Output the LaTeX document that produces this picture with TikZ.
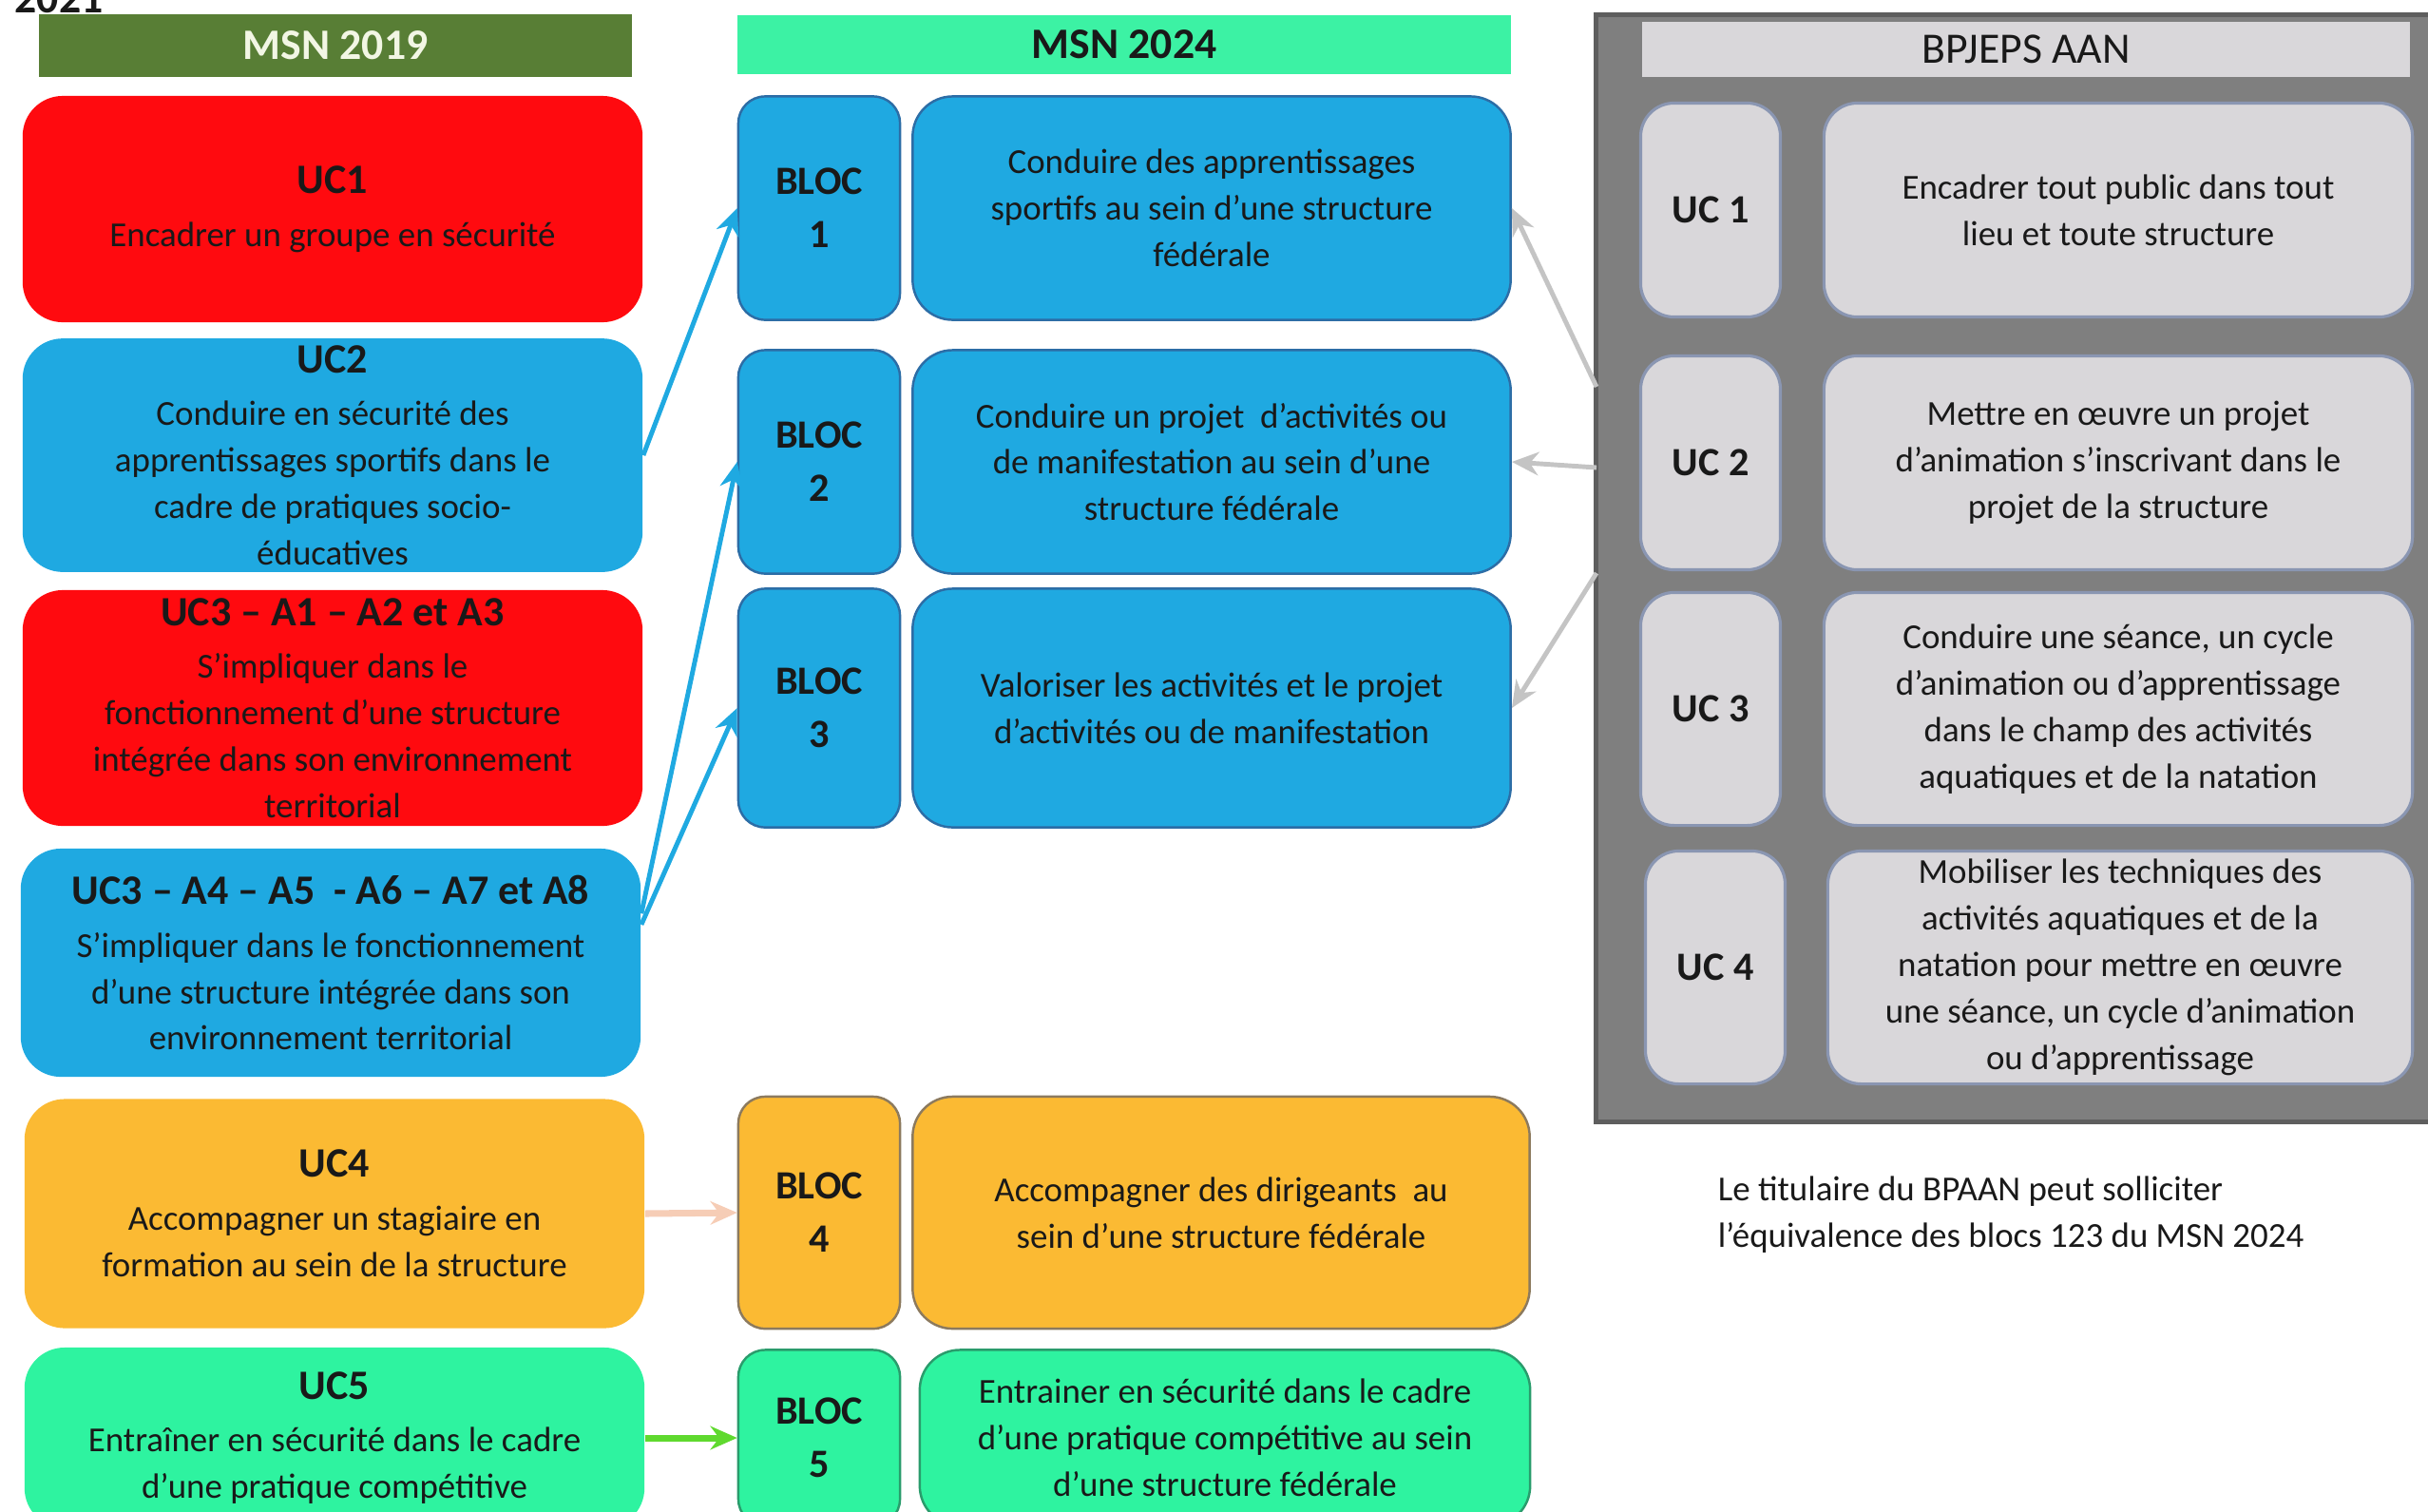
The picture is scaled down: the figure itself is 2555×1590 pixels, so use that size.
\documentclass[tikz,border=0pt]{standalone}
\usepackage{fontspec}
\setmainfont{Carlito}
\usepackage{tikz}
\usetikzlibrary{arrows.meta,positioning,calc}
\usepackage{xcolor}

\definecolor{ucred}{HTML}{FF0A0F}
\definecolor{ucblue}{HTML}{1FA9E1}
\definecolor{ucorange}{HTML}{FBBA33}
\definecolor{ucmint}{HTML}{2EF3A0}
\definecolor{headmint}{HTML}{3CF2A4}
\definecolor{headolive}{HTML}{587E35}
\definecolor{headwhite}{HTML}{F2F6E4}
\definecolor{panelgrey}{HTML}{7F7F7F}
\definecolor{paneledge}{HTML}{5E5E5E}
\definecolor{boxgrey}{HTML}{D9D7DA}
\definecolor{boxedge}{HTML}{8A96B2}
\definecolor{blueedge}{HTML}{2C6DA6}
\definecolor{orangeedge}{HTML}{8C7A5E}
\definecolor{mintedge}{HTML}{2A9C6C}
\definecolor{arrgrey}{HTML}{C4C4C4}
\definecolor{arrpeach}{HTML}{F6CDB6}
\definecolor{arrgreen}{HTML}{5FD92E}
\newcommand{\uct}[1]{{\fontsize{12.5}{15}\selectfont\bfseries #1}}

\begin{document}
\begin{tikzpicture}[x=0.01cm, y=-0.01cm,
  every node/.style={font=\fontsize{10.5}{13.9}\selectfont, text=black!90, align=center, inner sep=2pt},
  head/.style={inner sep=0pt, font=\fontsize{13}{15}\selectfont\bfseries},
  ucbox/.style={rounded corners=12pt, minimum width=6.52cm},
  bloc/.style={draw, rounded corners=8pt, minimum width=1.70cm, line width=0.7pt,
               font=\fontsize{12}{16}\selectfont\bfseries},
  desc/.style={draw, rounded corners=12pt, line width=0.7pt},
  grey/.style={fill=boxgrey, draw=boxedge, rounded corners=10pt, line width=0.9pt},
  arr/.style={-{Stealth[length=8pt,width=7pt]}, line width=1.4pt}
]
\useasboundingbox (0,0) rectangle (2555,1590);

\node[anchor=base west, font=\fontsize{13}{15}\selectfont\bfseries] (yr) at (8,13) {2021};

%% Headers
\node[head, fill=headolive, text=headwhite, minimum width=6.24cm, minimum height=0.65cm] (h19) at (353,48) {MSN 2019};
\node[head, fill=headmint, minimum width=8.13cm, minimum height=0.62cm] (h24) at (1183,47) {MSN 2024};

%% MSN 2019
\node[ucbox, fill=ucred, minimum height=2.38cm] (uc1) at (350,220) {\uct{UC1}\\[2pt]Encadrer un groupe en sécurité};
\node[ucbox, fill=ucblue, minimum height=2.42cm] (uc2) at (350,479) {\uct{UC2}\\[2pt]Conduire en sécurité des\\apprentissages sportifs dans le\\cadre de pratiques socio-\\éducatives};
\node[ucbox, fill=ucred, minimum height=2.48cm] (uc3a) at (350,745) {\uct{UC3 – A1 – A2 et A3}\\[2pt]S’impliquer dans le\\fonctionnement d’une structure\\intégrée dans son environnement\\territorial};
\node[ucbox, fill=ucblue, minimum height=2.40cm] (uc3b) at (348,1013) {\uct{UC3 – A4 – A5 \ - A6 – A7 et A8}\\[2pt]S’impliquer dans le fonctionnement\\d’une structure intégrée dans son\\environnement territorial};
\node[ucbox, fill=ucorange, minimum height=2.41cm] (uc4) at (352,1277) {\uct{UC4}\\[2pt]Accompagner un stagiaire en\\formation au sein de la structure};
\node[ucbox, fill=ucmint, minimum height=1.90cm] (uc5) at (352,1513) {\uct{UC5}\\[2pt]Entraîner en sécurité dans le cadre\\d’une pratique compétitive};

%% MSN 2024
\node[bloc, fill=ucblue, draw=blueedge, minimum height=2.35cm] (b1) at (862,219) {BLOC\\1};
\node[desc, fill=ucblue, draw=blueedge, minimum width=6.29cm, minimum height=2.35cm] (d1) at (1275,219) {Conduire des apprentissages\\sportifs au sein d’une structure\\fédérale};
\node[bloc, fill=ucblue, draw=blueedge, minimum height=2.35cm] (b2) at (862,486) {BLOC\\2};
\node[desc, fill=ucblue, draw=blueedge, minimum width=6.29cm, minimum height=2.35cm] (d2) at (1275,486) {Conduire un projet \ d’activités ou\\de manifestation au sein d’une\\structure fédérale};
\node[bloc, fill=ucblue, draw=blueedge, minimum height=2.51cm] (b3) at (862,745) {BLOC\\3};
\node[desc, fill=ucblue, draw=blueedge, minimum width=6.29cm, minimum height=2.51cm] (d3) at (1275,745) {Valoriser les activités et le projet\\d’activités ou de manifestation};
\node[bloc, fill=ucorange, draw=orangeedge, minimum height=2.44cm] (b4) at (862,1276) {BLOC\\4};
\node[desc, fill=ucorange, draw=orangeedge, minimum width=6.49cm, minimum height=2.44cm] (d4) at (1285,1276) {Accompagner des dirigeants \ au\\sein d’une structure fédérale};
\node[bloc, fill=ucmint, draw=mintedge, minimum height=1.85cm] (b5) at (862,1513) {BLOC\\5};
\node[desc, fill=ucmint, draw=mintedge, minimum width=6.42cm, minimum height=1.85cm] (d5) at (1289,1513) {Entrainer en sécurité dans le cadre\\d’une pratique compétitive au sein\\d’une structure fédérale};

%% BPJEPS AAN
\node[fill=panelgrey, draw=paneledge, line width=1.5pt, minimum width=8.9cm, minimum height=11.64cm] (panel) at (2125,598) {};
\node[fill=boxgrey, inner sep=0pt, minimum width=8.07cm, minimum height=0.57cm,
      font=\fontsize{13}{15}\selectfont] (hbp) at (2132,52) {BPJEPS AAN};
\node[grey, minimum width=1.47cm, minimum height=2.25cm, font=\fontsize{12}{15}\selectfont\bfseries] (r1) at (1800,221) {UC 1};
\node[grey, minimum width=6.19cm, minimum height=2.25cm] (e1) at (2229,221) {Encadrer tout public dans tout\\lieu et toute structure};
\node[grey, minimum width=1.47cm, minimum height=2.25cm, font=\fontsize{12}{15}\selectfont\bfseries] (r2) at (1800,487) {UC 2};
\node[grey, minimum width=6.19cm, minimum height=2.25cm] (e2) at (2229,487) {Mettre en œuvre un projet\\d’animation s’inscrivant dans le\\projet de la structure};
\node[grey, minimum width=1.47cm, minimum height=2.45cm, font=\fontsize{12}{15}\selectfont\bfseries] (r3) at (1800,746) {UC 3};
\node[grey, minimum width=6.19cm, minimum height=2.45cm] (e3) at (2229,746) {Conduire une séance, un cycle\\d’animation ou d’apprentissage\\dans le champ des activités\\aquatiques et de la natation};
\node[grey, minimum width=1.47cm, minimum height=2.45cm, font=\fontsize{12}{15}\selectfont\bfseries] (r4) at (1805,1018) {UC 4};
\node[grey, minimum width=6.15cm, minimum height=2.45cm] (e4) at (2231,1018) {Mobiliser les techniques des\\activités aquatiques et de la\\natation pour mettre en œuvre\\une séance, un cycle d’animation\\ou d’apprentissage};

\node[anchor=north west, align=left, font=\fontsize{10.5}{13.9}\selectfont] (note) at (1800,1230) {Le titulaire du BPAAN peut solliciter\\l’équivalence des blocs 123 du MSN 2024};

%% Arrows
\coordinate (g1) at (1680,407);
\coordinate (g2) at (1680,492);
\coordinate (g3) at (1680,603);
\draw[arr, ucblue] (uc2.east) -- (b1.west);
\draw[arr, ucblue] (uc3b.9) -- (b2.west);
\draw[arr, ucblue] (uc3b.7) -- (b3.west);
\draw[arr, arrgrey] (g1) -- (d1.east);
\draw[arr, arrgrey] (g2) -- (d2.east);
\draw[arr, arrgrey] (g3) -- (d3.east);
\draw[arr, arrpeach, line width=2pt] (uc4.east) -- (b4.west);
\draw[arr, arrgreen, line width=2pt] (uc5.east |- b5.west) -- (b5.west);

\end{tikzpicture}
\end{document}
